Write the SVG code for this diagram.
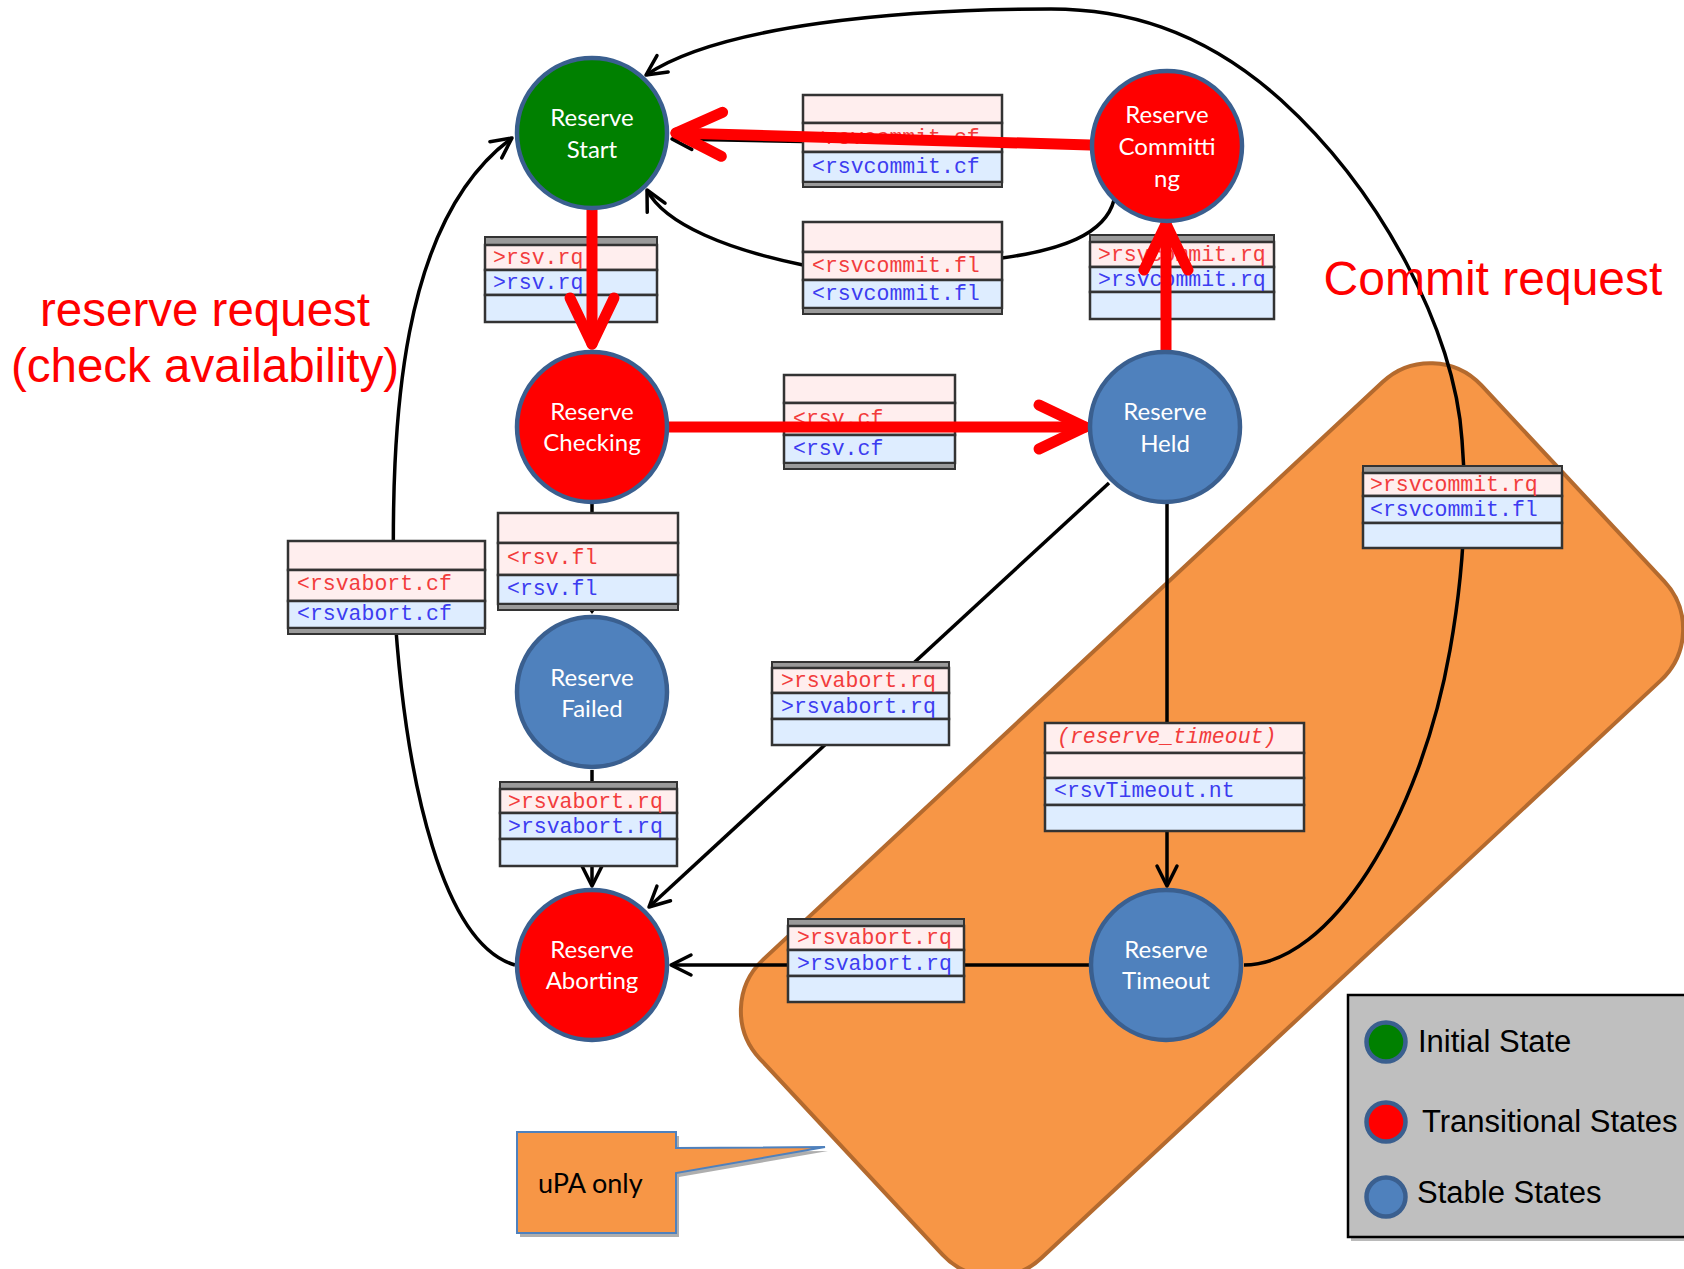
<svg xmlns="http://www.w3.org/2000/svg" width="1684" height="1269" viewBox="0 0 1684 1269">
<style>
  .state { stroke:#3a5f8f; stroke-width:4.5; }
  .initial { fill:#008000; }
  .transit { fill:#ff0000; }
  .stable { fill:#4f81bd; }
  .nl { font-family:Lato, "Open Sans", sans-serif; font-size:24px; fill:#ffffff; text-anchor:middle; }
  .pk { fill:#ffeeee; stroke:#333333; stroke-width:2.5; }
  .lb { fill:#deedff; stroke:#333333; stroke-width:2.5; }
  .gs { fill:#9a9a9a; stroke:#333333; stroke-width:2; }
  .mr { font-family:"Liberation Mono", "Courier New", monospace; font-size:21.5px; fill:#f23c3c; }
  .mb { font-family:"Liberation Mono", "Courier New", monospace; font-size:21.5px; fill:#3c3cf0; }
  .it { font-style:italic; }
  .conn { fill:none; stroke:#000000; stroke-width:3.5; }
  .hot { fill:none; stroke:#ff0000; stroke-width:11; stroke-linecap:round; }
  .note { font-family:"Liberation Sans", Arial, sans-serif; fill:#ff0000; }
  .key { font-family:"Liberation Sans", Arial, sans-serif; font-size:31px; fill:#000000; }
</style>
<defs>
  <marker id="open-arrow" markerUnits="userSpaceOnUse" markerWidth="40" markerHeight="40" refX="0" refY="0" orient="auto" overflow="visible">
    <path d="M -20,-10 L 0,0 L -20,10" fill="none" stroke="#000000" stroke-width="3.5" stroke-linecap="round" stroke-linejoin="round"/>
  </marker>
  <marker id="red-arrow" markerUnits="userSpaceOnUse" markerWidth="80" markerHeight="80" refX="0" refY="0" orient="auto" overflow="visible">
    <path d="M -46,-22 L 0,0 L -46,22" fill="none" stroke="#ff0000" stroke-width="11" stroke-linecap="round" stroke-linejoin="round"/>
  </marker>
</defs>

<rect width="1684" height="1269" fill="#ffffff"/>

<!-- uPA-only region -->
<g id="upa-region">
  <rect x="-493.5" y="-204" width="987" height="408" rx="70" ry="70" transform="translate(1212,820) rotate(-43)" fill="#f79646" stroke="#b46a2e" stroke-width="4"/>
</g>

<!-- plain transitions -->
<g id="connectors">
  <!-- committing -> start (confirm), under the red arrow -->
  <path class="conn" d="M 1090,147 L 672,139" marker-end="url(#open-arrow)"/>
  <!-- committing -> start (fail) -->
  <path class="conn" d="M 1114,200 C 1105,235 1060,250 1002,258 L 803,265 C 730,250 665,225 647,190" marker-end="url(#open-arrow)"/>
  <!-- timeout -> start (big loop) -->
  <path class="conn" d="M 1244,965 C 1330,965 1420,820 1450,650 C 1462,582 1468,510 1462,440 C 1455,330 1380,190 1281,100 C 1200,27 1120,9 1051,9 C 900,9 720,25 646,75" marker-end="url(#open-arrow)"/>
  <!-- aborting -> start (left loop) -->
  <path class="conn" d="M 515,965 C 445,945 405,790 394,600 C 390,420 400,220 512,138" marker-end="url(#open-arrow)"/>
  <!-- checking -> failed -->
  <path class="conn" d="M 592,504 L 592,609"/>
  <path d="M 586,606 L 598,606 L 592,614 Z" fill="#000000"/>
  <!-- failed -> aborting -->
  <path class="conn" d="M 592,770 L 592,886" marker-end="url(#open-arrow)"/>
  <!-- held -> aborting -->
  <path class="conn" d="M 1109,483 L 649,907" marker-end="url(#open-arrow)"/>
  <!-- held -> timeout -->
  <path class="conn" d="M 1167,498 L 1167,886" marker-end="url(#open-arrow)"/>
  <!-- timeout -> aborting -->
  <path class="conn" d="M 1089,965 L 671,965" marker-end="url(#open-arrow)"/>
</g>

<!-- message labels -->
<g id="label-rsvcommit-cf">
  <rect class="pk" x="803" y="95" width="199" height="28"/>
  <rect class="pk" x="803" y="123" width="199" height="29"/>
  <rect class="lb" x="803" y="152" width="199" height="30"/>
  <rect class="gs" x="803" y="182" width="199" height="5"/>
  <text class="mr" x="812" y="144">&lt;rsvcommit.cf</text>
  <text class="mb" x="812" y="173">&lt;rsvcommit.cf</text>
</g>
<g id="label-rsvcommit-fl">
  <rect class="pk" x="803" y="222" width="199" height="30"/>
  <rect class="pk" x="803" y="252" width="199" height="28"/>
  <rect class="lb" x="803" y="280" width="199" height="28"/>
  <rect class="gs" x="803" y="308" width="199" height="6"/>
  <text class="mr" x="812" y="272">&lt;rsvcommit.fl</text>
  <text class="mb" x="812" y="300">&lt;rsvcommit.fl</text>
</g>
<g id="label-rsv-rq">
  <rect class="gs" x="485" y="237" width="172" height="8"/>
  <rect class="pk" x="485" y="245" width="172" height="25"/>
  <rect class="lb" x="485" y="270" width="172" height="25"/>
  <rect class="lb" x="485" y="295" width="172" height="27"/>
  <text class="mr" x="493" y="264">&gt;rsv.rq</text>
  <text class="mb" x="493" y="289">&gt;rsv.rq</text>
</g>
<g id="label-rsvcommit-rq">
  <rect class="gs" x="1090" y="235" width="184" height="7"/>
  <rect class="pk" x="1090" y="242" width="184" height="25"/>
  <rect class="lb" x="1090" y="267" width="184" height="25"/>
  <rect class="lb" x="1090" y="292" width="184" height="27"/>
  <text class="mr" x="1098" y="261">&gt;rsvcommit.rq</text>
  <text class="mb" x="1098" y="286">&gt;rsvcommit.rq</text>
</g>
<g id="label-rsv-cf">
  <rect class="pk" x="784" y="375" width="171" height="28"/>
  <rect class="pk" x="784" y="403" width="171" height="32"/>
  <rect class="lb" x="784" y="435" width="171" height="28"/>
  <rect class="gs" x="784" y="463" width="171" height="6"/>
  <text class="mr" x="793" y="425">&lt;rsv.cf</text>
  <text class="mb" x="793" y="455">&lt;rsv.cf</text>
</g>
<g id="label-rsv-fl">
  <rect class="pk" x="498" y="513" width="180" height="30"/>
  <rect class="pk" x="498" y="543" width="180" height="32"/>
  <rect class="lb" x="498" y="575" width="180" height="29"/>
  <rect class="gs" x="498" y="604" width="180" height="6"/>
  <text class="mr" x="507" y="564">&lt;rsv.fl</text>
  <text class="mb" x="507" y="595">&lt;rsv.fl</text>
</g>
<g id="label-rsvabort-cf">
  <rect class="pk" x="288" y="541" width="197" height="29"/>
  <rect class="pk" x="288" y="570" width="197" height="31"/>
  <rect class="lb" x="288" y="601" width="197" height="27"/>
  <rect class="gs" x="288" y="628" width="197" height="6"/>
  <text class="mr" x="297" y="590">&lt;rsvabort.cf</text>
  <text class="mb" x="297" y="620">&lt;rsvabort.cf</text>
</g>
<g id="label-rsvabort-rq-failed">
  <rect class="gs" x="500" y="782" width="177" height="7"/>
  <rect class="pk" x="500" y="789" width="177" height="24"/>
  <rect class="lb" x="500" y="813" width="177" height="26"/>
  <rect class="lb" x="500" y="839" width="177" height="27"/>
  <text class="mr" x="508" y="808">&gt;rsvabort.rq</text>
  <text class="mb" x="508" y="833">&gt;rsvabort.rq</text>
</g>
<g id="label-rsvabort-rq-held">
  <rect class="gs" x="772" y="662" width="177" height="6"/>
  <rect class="pk" x="772" y="668" width="177" height="25"/>
  <rect class="lb" x="772" y="693" width="177" height="26"/>
  <rect class="lb" x="772" y="719" width="177" height="26"/>
  <text class="mr" x="781" y="687">&gt;rsvabort.rq</text>
  <text class="mb" x="781" y="713">&gt;rsvabort.rq</text>
</g>
<g id="label-rsvabort-rq-timeout">
  <rect class="gs" x="788" y="919" width="176" height="7"/>
  <rect class="pk" x="788" y="926" width="176" height="24"/>
  <rect class="lb" x="788" y="950" width="176" height="26"/>
  <rect class="lb" x="788" y="976" width="176" height="26"/>
  <text class="mr" x="797" y="944">&gt;rsvabort.rq</text>
  <text class="mb" x="797" y="970">&gt;rsvabort.rq</text>
</g>
<g id="label-reserve-timeout">
  <rect class="pk" x="1045" y="723" width="259" height="30"/>
  <rect class="pk" x="1045" y="753" width="259" height="25"/>
  <rect class="lb" x="1045" y="778" width="259" height="27"/>
  <rect class="lb" x="1045" y="805" width="259" height="26"/>
  <text class="mr it" x="1057" y="743" font-size="20.5">(reserve_timeout)</text>
  <text class="mb" x="1054" y="797">&lt;rsvTimeout.nt</text>
</g>
<g id="label-rsvcommit-timeout">
  <rect class="gs" x="1363" y="466" width="199" height="7"/>
  <rect class="pk" x="1363" y="473" width="199" height="23"/>
  <rect class="lb" x="1363" y="496" width="199" height="27"/>
  <rect class="lb" x="1363" y="523" width="199" height="25"/>
  <text class="mr" x="1370" y="491">&gt;rsvcommit.rq</text>
  <text class="mb" x="1370" y="516">&lt;rsvcommit.fl</text>
</g>

<!-- main path transitions -->
<g id="connectors-main">
  <path class="hot" d="M 592,210 L 592,344" marker-end="url(#red-arrow)"/>
  <path class="hot" d="M 1090,145 L 676,133" marker-end="url(#red-arrow)"/>
  <path class="hot" d="M 669,427 L 1085,427" marker-end="url(#red-arrow)"/>
  <path class="hot" d="M 1166,350 L 1166,224" marker-end="url(#red-arrow)"/>
</g>

<!-- states -->
<g id="node-reserve-start">
  <circle class="state initial" cx="592" cy="133" r="75"/>
  <text class="nl" x="592" y="126">Reserve</text>
  <text class="nl" x="592" y="158">Start</text>
</g>
<g id="node-reserve-committing">
  <circle class="state transit" cx="1167" cy="146" r="75"/>
  <text class="nl" x="1167" y="123">Reserve</text>
  <text class="nl" x="1167" y="155">Committi</text>
  <text class="nl" x="1167" y="187">ng</text>
</g>
<g id="node-reserve-checking">
  <circle class="state transit" cx="592" cy="427" r="75"/>
  <text class="nl" x="592" y="420">Reserve</text>
  <text class="nl" x="592" y="451">Checking</text>
</g>
<g id="node-reserve-held">
  <circle class="state stable" cx="1165" cy="427" r="75"/>
  <text class="nl" x="1165" y="420">Reserve</text>
  <text class="nl" x="1165" y="452">Held</text>
</g>
<g id="node-reserve-failed">
  <circle class="state stable" cx="592" cy="692" r="75"/>
  <text class="nl" x="592" y="686">Reserve</text>
  <text class="nl" x="592" y="717">Failed</text>
</g>
<g id="node-reserve-aborting">
  <circle class="state transit" cx="592" cy="965" r="75"/>
  <text class="nl" x="592" y="958">Reserve</text>
  <text class="nl" x="592" y="989">Aborting</text>
</g>
<g id="node-reserve-timeout">
  <circle class="state stable" cx="1166" cy="965" r="75"/>
  <text class="nl" x="1166" y="958">Reserve</text>
  <text class="nl" x="1166" y="989">Timeout</text>
</g>

<!-- annotations -->
<g id="note-reserve-request">
  <text class="note" x="205" y="326" font-size="47.5" text-anchor="middle">reserve request</text>
  <text class="note" x="205" y="382" font-size="47.5" text-anchor="middle">(check availability)</text>
</g>
<g id="note-commit-request">
  <text class="note" x="1493" y="295" font-size="48" text-anchor="middle">Commit request</text>
</g>

<!-- uPA callout -->
<g id="callout-upa">
  <path d="M 520,1136 L 679,1136 L 679,1152 L 828,1151 L 679,1177 L 679,1237 L 520,1237 Z" fill="#8c8c8c" opacity="0.7"/>
  <path d="M 517,1132 L 676,1132 L 676,1148 L 825,1147 L 676,1173 L 676,1233 L 517,1233 Z" fill="#f79646" stroke="#4f81bd" stroke-width="2"/>
  <text x="538" y="1193" font-family="Lato, 'Open Sans', sans-serif" font-size="27" fill="#000000">uPA only</text>
</g>

<!-- legend -->
<g id="legend">
  <rect x="1351" y="999" width="340" height="242" fill="#8c8c8c" opacity="0.6"/>
  <rect x="1348" y="995" width="340" height="242" fill="#bfbfbf" stroke="#000000" stroke-width="2.5"/>
  <circle class="state initial" cx="1386" cy="1042" r="19.5" stroke-width="5"/>
  <circle class="state transit" cx="1386" cy="1122" r="19.5" stroke-width="5"/>
  <circle class="state stable" cx="1386" cy="1197" r="19.5" stroke-width="5"/>
  <text class="key" x="1418" y="1052">Initial State</text>
  <text class="key" x="1422" y="1132">Transitional States</text>
  <text class="key" x="1417" y="1203">Stable States</text>
</g>
</svg>
